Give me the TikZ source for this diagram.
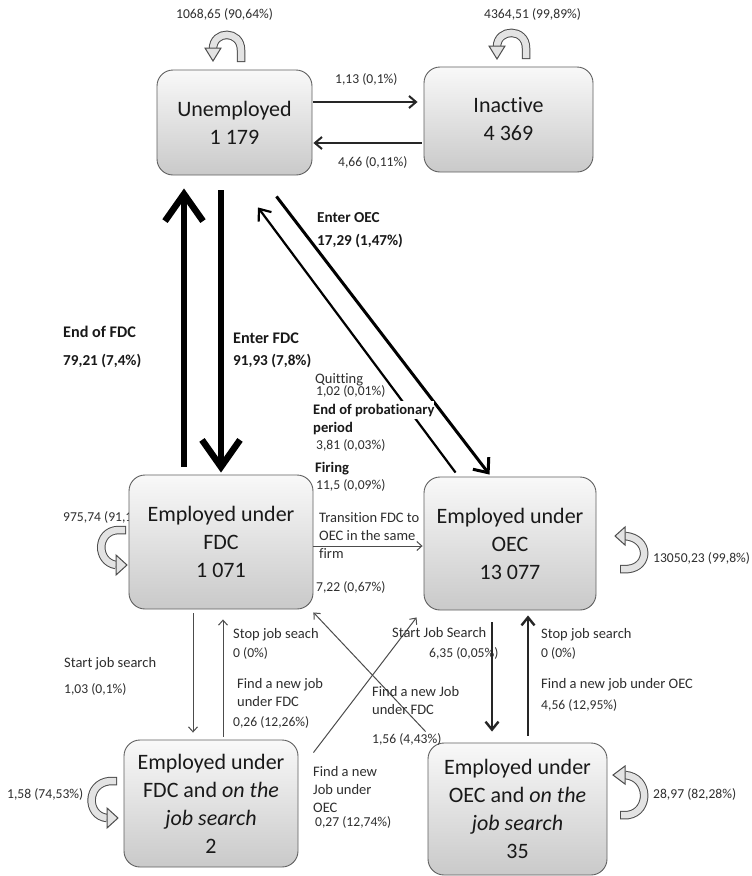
\documentclass[tikz,border=0pt]{standalone}
\usepackage{fontspec}
\setmainfont{Carlito}[Ligatures=NoCommon]
\usetikzlibrary{arrows.meta}
\newcommand\BoxFont{\fontsize{22}{28}\selectfont}
\newcommand\LabFont{\fontsize{14.5}{18}\selectfont}
\newcommand\NumFont{\fontsize{13.6}{18}\selectfont}
\newcommand\BLabFont{\fontsize{14.6}{18}\selectfont\bfseries}
\newcommand\BBigFont{\fontsize{16.2}{20}\selectfont\bfseries}
\newcommand\BNumFont{\fontsize{15.2}{20}\selectfont\bfseries}
\begin{document}
\begin{tikzpicture}[x=1pt,y=-1pt,
  box/.style={rounded corners=16pt, draw=gray!75!black, line width=0.9pt,
    top color=gray!5, bottom color=gray!42, align=center, font=\BoxFont,
    text=black!90, inner sep=0pt},
  lab/.style={anchor=base west, inner sep=0pt, font=\LabFont, text=black!82},
  num/.style={anchor=base west, inner sep=0pt, font=\NumFont, text=black!82},
  blab/.style={anchor=base west, inner sep=0pt, font=\BLabFont, text=black!90},
  bbig/.style={anchor=base west, inner sep=0pt, font=\BBigFont, text=black!90},
  bnum/.style={anchor=base west, inner sep=0pt, font=\BNumFont, text=black!90},
  bigarr/.style={draw=black, line width=6.5pt,
    -{Straight Barb[length=27pt,width=38pt,line width=6.5pt]}},
  diagarr/.style={draw=black, line width=3pt,
    -{Straight Barb[length=12pt,width=20pt,line width=3pt]}},
  backarr/.style={draw=black, line width=2.2pt,
    -{Straight Barb[length=10pt,width=16pt,line width=2.2pt]}},
  toparr/.style={draw=black!85, line width=2pt,
    -{Straight Barb[length=7pt,width=12pt,line width=2pt]}},
  midarr/.style={draw=black!85, line width=2.4pt,
    -{Straight Barb[length=8pt,width=13pt,line width=2.4pt]}},
  thinarr/.style={draw=black!70, line width=1pt,
    -{Straight Barb[length=5pt,width=9pt,line width=1pt]}},
  loopo/.style={draw=gray!60!black, line width=8.5pt},
  loopi/.style={draw=gray!22, line width=6.5pt, shorten <=1pt},
  loophead/.style={fill=gray!22, draw=gray!60!black, line width=1pt, line join=miter}
]
\useasboundingbox (0,0) rectangle (752,876);
\fill[white] (0,0) rectangle (752,876);

% label partly hidden behind the FDC box
\node[num] (lfdcself) at (63,521.5) {975,74 (91,1\%)};

% boxes
\node[box, minimum width=155pt, minimum height=105pt] (unemp) at (234.5,122.5) {Unemployed\\1 179};
\node[box, minimum width=169pt, minimum height=105pt] (inact) at (508.5,119.5) {Inactive\\4 369};
\node[box, minimum width=184pt, minimum height=134pt] (fdc) at (221,542) {Employed under\\FDC\\1 071};
\node[box, minimum width=172pt, minimum height=133pt] (oec) at (510,543.5) {Employed under\\OEC\\13 077};
\node[box, minimum width=174pt, minimum height=127pt] (fdcjs) at (211,803.5) {Employed under\\FDC and \textit{on the}\\\textit{job search}\\2};
\node[box, minimum width=179pt, minimum height=132pt] (oecjs) at (517.5,809) {Employed under\\OEC and \textit{on the}\\\textit{job search}\\35};

% self loops
\draw[loopo] (241,62) -- (241,50) .. controls (241,30) and (213,30) .. (213,49);
\draw[loopi] (241,62) -- (241,50) .. controls (241,30) and (213,30) .. (213,49);
\draw[loophead] (205,48) -- (221,48) -- (213,61) -- cycle;

\draw[loopo] (526,59) -- (526,48) .. controls (526,28) and (497,28) .. (497,47);
\draw[loopi] (526,59) -- (526,48) .. controls (526,28) and (497,28) .. (497,47);
\draw[loophead] (489,46) -- (505,46) -- (497,59) -- cycle;

\draw[loopo] (126,530) -- (118,530) .. controls (96,531) and (96,562) .. (116,565);
\draw[loopi] (126,530) -- (118,530) .. controls (96,531) and (96,562) .. (116,565);
\draw[loophead] (116,555) -- (116,575) -- (127,565) -- cycle;

\draw[loopo] (620,569) -- (628,569) .. controls (650,567) and (650,538) .. (625,536);
\draw[loopi] (620,569) -- (628,569) .. controls (650,567) and (650,538) .. (625,536);
\draw[loophead] (625,527) -- (625,545) -- (615,536) -- cycle;

\draw[loopo] (117,781) -- (110,781) .. controls (86,783) and (86,816) .. (107,818);
\draw[loopi] (117,781) -- (110,781) .. controls (86,783) and (86,816) .. (107,818);
\draw[loophead] (107,808) -- (107,828) -- (118,818) -- cycle;

\draw[loopo] (620,815) -- (628,815) .. controls (650,812) and (650,777) .. (625,775);
\draw[loopi] (620,815) -- (628,815) .. controls (650,812) and (650,777) .. (625,775);
\draw[loophead] (625,766) -- (625,784) -- (613,775) -- cycle;

% connectors
\draw[toparr, shorten <=1pt, shorten >=6pt] (unemp.east |- 0,102) -- (inact.west |- 0,102);
\draw[toparr, shorten <=2pt, shorten >=1pt] (inact.west |- 0,143) -- (unemp.east |- 0,143);
\draw[bigarr, shorten <=8pt, shorten >=13pt] (fdc.north -| 184,0) -- (unemp.south -| 184,0);
\draw[bigarr, shorten <=15pt, shorten >=2pt] (unemp.south -| 221,0) -- (fdc.north -| 221,0);
\draw[diagarr] ([shift={(-36pt,-21pt)}]unemp.south east) -- ([shift={(66pt,2pt)}]oec.north west);
\draw[backarr] ([shift={(32pt,4pt)}]oec.north west) -- ([shift={(23.5pt,-32pt)}]unemp.south);
\draw[thinarr, shorten >=1pt] (fdc.east |- 0,546) -- (oec.west |- 0,546);
\draw[thinarr, shorten <=4pt, shorten >=7pt] (fdc.south -| 193,0) -- (fdcjs.north -| 193,0);
\draw[thinarr, shorten <=3pt, shorten >=10pt] (fdcjs.north -| 223,0) -- (fdc.south -| 223,0);
\draw[thinarr] ([shift={(15pt,-13pt)}]fdcjs.north east) -- ([shift={(-7pt,-7pt)}]oec.south west);
\draw[thinarr] ([shift={(-2pt,11pt)}]oecjs.north west) -- ([shift={(0pt,-3pt)}]fdc.south east);
\draw[midarr, shorten <=12pt, shorten >=11pt] (oec.south -| 492,0) -- (oecjs.north -| 492,0);
\draw[midarr, shorten <=7pt, shorten >=5pt] (oecjs.north -| 528,0) -- (oec.south -| 528,0);

% labels
\node[num] (lunself) at (176,18.5) {1068,65 (90,64\%)};
\node[num] (linself) at (484,18.5) {4364,51 (99,89\%)};
\node[num] (lui) at (335,83.5) {1,13 (0,1\%)};
\node[num] (liu) at (338,166.5) {4,66 (0,11\%)};

\node[bbig] (lendfdc) at (63,337.3) {End of FDC};
\node[bnum] (lendfdcn) at (63,365) {79,21 (7,4\%)};
\node[bbig] (lenterfdc) at (233,343) {Enter FDC};
\node[bnum] (lenterfdcn) at (233,365) {91,93 (7,8\%)};
\node[bnum] (lenteroec) at (317,222) {Enter OEC};
\node[bnum] (lenteroecn) at (317,245) {17,29 (1,47\%)};

\node[lab] (lquit) at (315,383) {Quitting};
\node[num] (lquitn) at (316,395.5) {1,02 (0,01\%)};
\node[blab, fill=white, inner ysep=2.5pt, inner xsep=0pt] (lprob) at (313,414) {End of probationary};
\node[blab] (lprob2) at (313,432) {period};
\node[num] (lprobn) at (316,449.5) {3,81 (0,03\%)};
\node[blab] (lfire) at (315,472) {Firing};
\node[num] (lfiren) at (316,489.5) {11,5 (0,09\%)};

\node[lab] (ltr1) at (319,522) {Transition FDC to};
\node[lab] (ltr2) at (319,540) {OEC in the same};
\node[lab] (ltr3) at (319,558) {firm};
\node[num] (ltrn) at (316,591.5) {7,22 (0,67\%)};

\node[num] (loecself) at (653,562.5) {13050,23 (99,8\%)};

\node[lab] (lsjs) at (64,667) {Start job search};
\node[num] (lsjsn) at (64,693.5) {1,03 (0,1\%)};
\node[lab] (lstop1) at (233,638) {Stop job seach};
\node[num] (lstop1n) at (233,657.5) {0 (0\%)};
\node[lab] (lfnj1) at (237,688) {Find a new job};
\node[lab] (lfnj1b) at (237,706) {under FDC};
\node[num] (lfnj1n) at (233,726.5) {0,26 (12,26\%)};

\node[lab] (lfno1) at (313,776) {Find a new};
\node[lab] (lfno2) at (313,794) {Job under};
\node[lab] (lfno3) at (313,812) {OEC};
\node[num] (lfnon) at (315,826.5) {0,27 (12,74\%)};

\node[lab] (lfnf1) at (372,696) {Find a new Job};
\node[lab] (lfnf2) at (372,714) {under FDC};
\node[num] (lfnfn) at (372,743.5) {1,56 (4,43\%)};

\node[lab] (lsjs2) at (392,637) {Start Job Search};
\node[num] (lsjs2n) at (429,657.5) {6,35 (0,05\%)};
\node[lab] (lstop2) at (541,638) {Stop job search};
\node[num] (lstop2n) at (541,657.5) {0 (0\%)};
\node[lab] (lfno4) at (541,688) {Find a new job under OEC};
\node[num] (lfno4n) at (541,709.5) {4,56 (12,95\%)};

\node[num] (lfdcjsself) at (7,798.5) {1,58 (74,53\%)};
\node[num] (loecjsself) at (653,798.5) {28,97 (82,28\%)};
\end{tikzpicture}
\end{document}
